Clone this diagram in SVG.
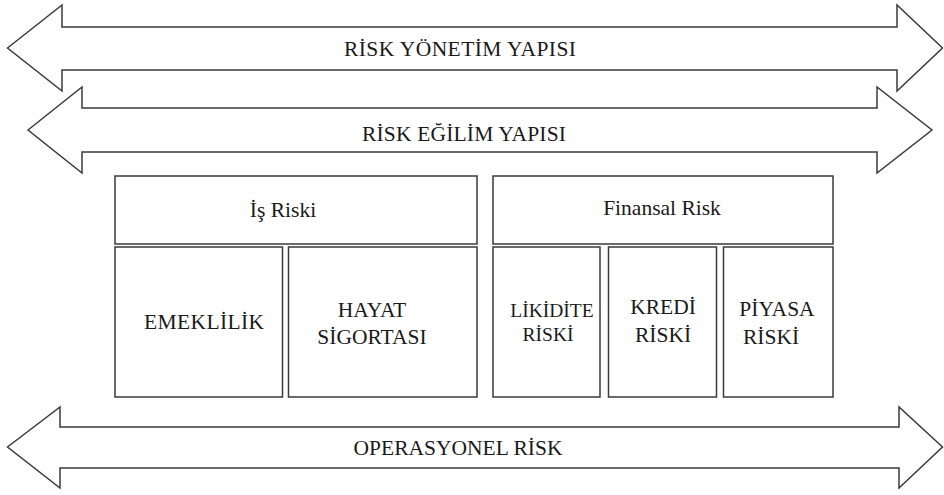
<svg xmlns="http://www.w3.org/2000/svg" width="944" height="495" viewBox="0 0 944 495">
<style>
.s{fill:#fff;stroke:#3a3a3a;stroke-width:1.5;stroke-linejoin:miter}
.t{font-family:'Liberation Serif','Times New Roman','DejaVu Serif',serif;font-size:21.5px;fill:#1a1a1a;text-anchor:middle}
.sm{font-size:19.5px}
</style>
<rect width="944" height="495" fill="#fff"/>
<g id="risk-yonetim-yapisi">
<polygon class="s" points="7.5,48 62,5 62,27 897,27 897,5 942.5,48 897,91 897,70 62,70 62,91"/>
<text class="t" x="460" y="56" textLength="232" lengthAdjust="spacing">RİSK YÖNETİM YAPISI</text>
</g>
<g id="risk-egilim-yapisi">
<polygon class="s" points="28,130 82,87 82,108 877,108 877,87 932,130 877,173 877,152 82,152 82,173"/>
<text class="t" x="464" y="141" textLength="204" lengthAdjust="spacing">RİSK EĞİLİM YAPISI</text>
</g>
<g id="is-riski">
<rect class="s" x="115" y="176" width="362" height="68"/>
<text class="t" x="283" y="217">İş Riski</text>
</g>
<g id="emeklilik">
<rect class="s" x="115" y="247" width="167.5" height="150"/>
<text class="t" x="204" y="329" textLength="120" lengthAdjust="spacing">EMEKLİLİK</text>
</g>
<g id="hayat-sigortasi">
<rect class="s" x="288.5" y="247" width="188.5" height="150"/>
<text class="t" x="372" y="317">HAYAT</text>
<text class="t" x="372" y="343.5">SİGORTASI</text>
</g>
<g id="finansal-risk">
<rect class="s" x="493" y="176" width="340" height="68"/>
<text class="t" x="662" y="214.5">Finansal Risk</text>
</g>
<g id="likidite-riski">
<rect class="s" x="493" y="247" width="107" height="150"/>
<text class="t sm" x="552" y="317">LİKİDİTE</text>
<text class="t sm" x="548" y="341">RİSKİ</text>
</g>
<g id="kredi-riski">
<rect class="s" x="608.5" y="247" width="108" height="150"/>
<text class="t" x="663" y="313.5">KREDİ</text>
<text class="t" x="663" y="341.5">RİSKİ</text>
</g>
<g id="piyasa-riski">
<rect class="s" x="723.5" y="247" width="109.5" height="150"/>
<text class="t" x="777" y="316">PİYASA</text>
<text class="t" x="771" y="343.5">RİSKİ</text>
</g>
<g id="operasyonel-risk">
<polygon class="s" points="7.5,447 60,407 60,427 899,427 899,407 942.5,447 899,488 899,468 60,468 60,488"/>
<text class="t" x="458" y="455">OPERASYONEL RİSK</text>
</g>
</svg>
